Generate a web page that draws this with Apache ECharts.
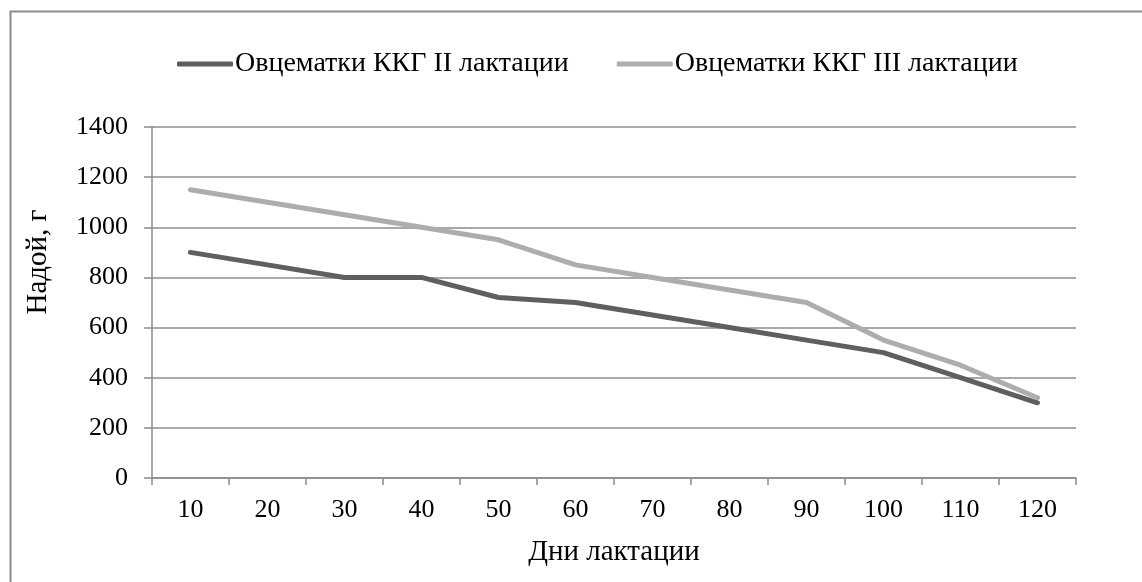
<!DOCTYPE html>
<html><head><meta charset="utf-8">
<script src="https://cdn.jsdelivr.net/npm/echarts@6/dist/echarts.min.js"></script>
<style>html,body{margin:0;padding:0;background:#fff}#c{width:1142px;height:582px}</style>
</head><body><div id="c"></div>
<script>
const categories = ['10','20','30','40','50','60','70','80','90','100','110','120'];
const seriesII = [900, 850, 800, 800, 720, 700, 650, 600, 550, 500, 400, 300];
const seriesIII = [1150, 1100, 1050, 1000, 950, 850, 800, 750, 700, 550, 450, 320];
const nameII = 'Овцематки ККГ II лактации';
const nameIII = 'Овцематки ККГ III лактации';
const yTitle = 'Надой, г';
const xTitle = 'Дни лактации';
const font = 'Liberation Serif';
const chart = echarts.init(document.getElementById('c'), null, {renderer:'canvas'});
chart.setOption({
  animation:false,
  backgroundColor:'#fff',
  textStyle:{fontFamily:font},
  graphic:[
    {type:'rect',shape:{x:10.5,y:11.5,width:1140,height:600},style:{fill:'none',stroke:'#8c8c8c',lineWidth:2},silent:true},
    {type:'text',x:38,y:262,rotation:Math.PI/2,style:{text:yTitle,font:'29px "Liberation Serif"',fill:'#000',align:'center',verticalAlign:'middle'},silent:true}
  ],
  legend:{
    top:45, left:172, itemGap:48, itemWidth:56, itemHeight:5,
    icon:'roundRect',
    textStyle:{fontFamily:font,fontSize:28,color:'#000',padding:[0,0,0,-3]},
    data:[nameII,nameIII]
  },
  grid:{left:152,right:66,top:127,bottom:104},
  xAxis:{
    type:'category', data:categories, boundaryGap:true,
    name:xTitle, nameLocation:'middle', nameGap:60,
    nameTextStyle:{fontFamily:font,fontSize:29,color:'#000'},
    axisLine:{lineStyle:{color:'#8c8c8c',width:1.5}},
    axisTick:{show:true,length:7,alignWithLabel:false,lineStyle:{color:'#8c8c8c',width:1.5}},
    axisLabel:{fontFamily:font,fontSize:26,color:'#000',margin:19}
  },
  yAxis:{
    type:'value', min:0, max:1400, interval:200,
    axisLine:{show:true,lineStyle:{color:'#8c8c8c',width:1.5}},
    axisTick:{show:true,length:8,lineStyle:{color:'#8c8c8c',width:1.5}},
    splitLine:{lineStyle:{color:'#8c8c8c',width:1.5}},
    axisLabel:{fontFamily:font,fontSize:26,color:'#000',margin:24,formatter:v=>String(v)}
  },
  series:[
    {name:nameII,type:'line',data:seriesII,symbol:'none',lineStyle:{color:'#5f5f5f',width:5,cap:'round',join:'round'},itemStyle:{color:'#5f5f5f'}},
    {name:nameIII,type:'line',data:seriesIII,symbol:'none',lineStyle:{color:'#adadad',width:5,cap:'round',join:'round'},itemStyle:{color:'#adadad'}}
  ]
});
</script></body></html>
